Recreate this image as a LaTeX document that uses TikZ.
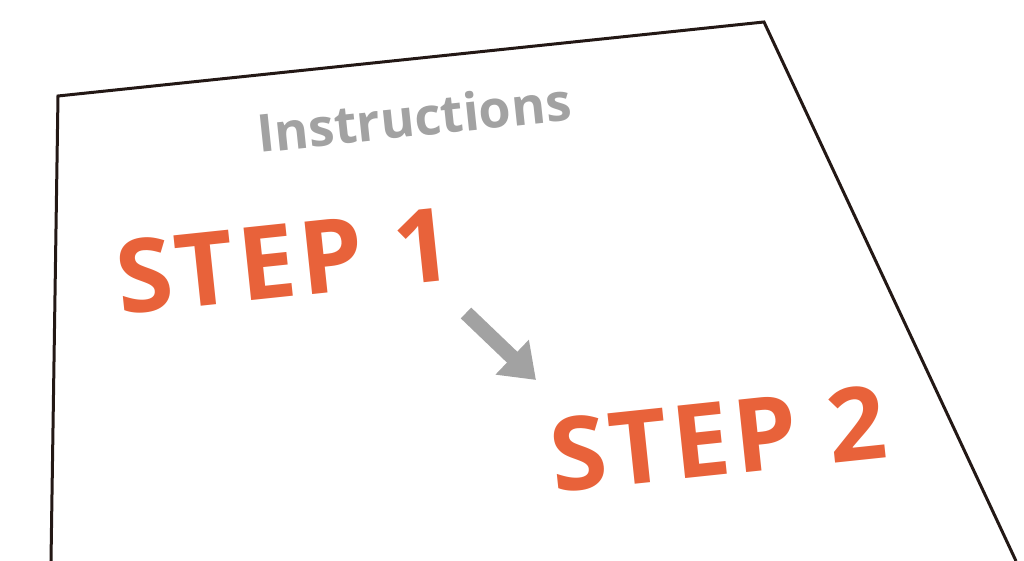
\documentclass[tikz,border=0pt]{standalone}
\usepackage{fontspec}
\setmainfont{Open Sans}
\usetikzlibrary{arrows.meta}

\definecolor{steporange}{HTML}{E8623A}
\definecolor{titlegray}{HTML}{A2A2A2}
\definecolor{paperline}{HTML}{231815}

\tikzset{
  steptext/.style={text=steporange, font=\fontsize{29}{32}\selectfont\bfseries\addfontfeatures{LetterSpace=4}, rotate=6},
  titletext/.style={text=titlegray, font=\fontsize{14.8}{17}\selectfont\bfseries, rotate=6},
}

\begin{document}
\begin{tikzpicture}[x=0.01cm, y=-0.01cm]
		\useasboundingbox (0, 0) rectangle (1024, 561);

		\coordinate (a) at (51, 561);
		\coordinate (b) at (58, 96);
		\coordinate (c) at (764, 22);
		\coordinate (d) at (1016, 561);

		\draw[paperline, line width=0.03cm, line join=miter] (a) -- (b) -- (c) -- (d);

		\node[titletext] (title) at (414, 117) {Instructions};
		\node[steptext] (stepone) at (284, 261) {STEP 1};
		\node[steptext] (steptwo) at (718, 439) {STEP 2};

		\coordinate (p) at (466, 313);
		\coordinate (q) at (536, 380);
		\draw[titlegray, line width=0.15cm, -{Triangle[length=0.33cm, width=0.46cm]}] (p) -- (q);
	\end{tikzpicture}
\end{document}
